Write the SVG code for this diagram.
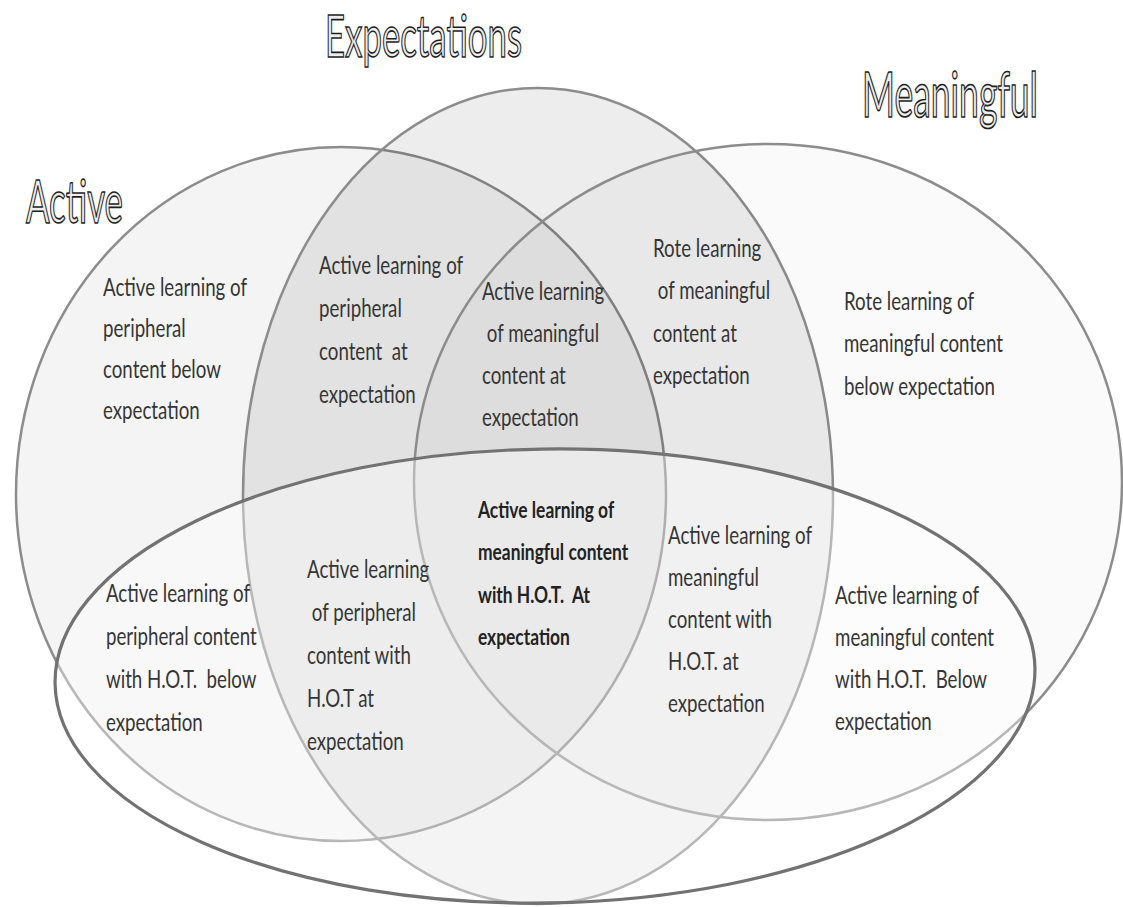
<svg xmlns="http://www.w3.org/2000/svg" width="1123" height="907" viewBox="0 0 1123 907">
<style>
.set{stroke:#8c8c8c;stroke-width:2.5}
.hot{stroke:#727272;stroke-width:3.2}
.t{font-family:Lato,"Liberation Sans",sans-serif;font-size:21.5px;fill:#353535;white-space:pre}
.b{font-weight:bold;font-size:20px;fill:#222}
.title{font-family:Lato,"Liberation Sans",sans-serif;font-size:40px;fill:#eeeeee;stroke:#1e1e1e;stroke-width:1.1;white-space:pre}
</style>
<rect width="1123" height="907" fill="#ffffff"/>
<g id="set-active"><ellipse class="set" cx="341" cy="494" rx="325" ry="347" fill="#000" fill-opacity="0.045"/></g>
<g id="set-expectations"><ellipse class="set" cx="538" cy="496" rx="295" ry="408" fill="#000" fill-opacity="0.07"/></g>
<g id="set-meaningful"><ellipse class="set" cx="768" cy="482" rx="354" ry="338" fill="#000" fill-opacity="0.02"/></g>
<g id="set-hot"><ellipse class="hot" cx="545" cy="676" rx="490" ry="227" transform="rotate(-0.9 545 676)" fill="#fff" fill-opacity="0.38"/></g>

<g id="titles">
<text class="title" transform="translate(325,57) scale(1,1.45)" x="0" y="0" textLength="197" lengthAdjust="spacingAndGlyphs">Expectations</text>
<text class="title" transform="translate(26,223) scale(1,1.5)" x="0" y="0" textLength="97" lengthAdjust="spacingAndGlyphs">Active</text>
<text class="title" transform="translate(862,117) scale(1,1.55)" x="0" y="0" textLength="176" lengthAdjust="spacingAndGlyphs">Meaningful</text>
</g>

<g transform="scale(0.87,1.15)">
<g id="r-active">
<text class="t" x="118.4" y="257.4">Active learning of</text>
<text class="t" x="118.4" y="293.0">peripheral</text>
<text class="t" x="118.4" y="328.7">content below</text>
<text class="t" x="118.4" y="364.3">expectation</text>
</g>
<g id="r-active-exp">
<text class="t" x="366.7" y="238.3">Active learning of</text>
<text class="t" x="366.7" y="275.7">peripheral</text>
<text class="t" x="366.7" y="313.0">content  at</text>
<text class="t" x="366.7" y="350.4">expectation</text>
</g>
<g id="r-active-exp-mean">
<text class="t" x="554.0" y="260.9">Active learning</text>
<text class="t" x="554.0" y="297.4"> of meaningful</text>
<text class="t" x="554.0" y="333.9">content at</text>
<text class="t" x="554.0" y="370.4">expectation</text>
</g>
<g id="r-exp-mean">
<text class="t" x="750.6" y="223.5">Rote learning</text>
<text class="t" x="750.6" y="260.4"> of meaningful</text>
<text class="t" x="750.6" y="297.4">content at</text>
<text class="t" x="750.6" y="334.3">expectation</text>
</g>
<g id="r-mean">
<text class="t" x="970.1" y="269.6">Rote learning of</text>
<text class="t" x="970.1" y="306.5">meaningful content</text>
<text class="t" x="970.1" y="343.5">below expectation</text>
</g>
<g id="r-active-hot">
<text class="t" x="121.8" y="523.5">Active learning of</text>
<text class="t" x="121.8" y="560.9">peripheral content</text>
<text class="t" x="121.8" y="598.3">with H.O.T.  below</text>
<text class="t" x="121.8" y="635.7">expectation</text>
</g>
<g id="r-active-exp-hot">
<text class="t" x="352.9" y="502.6">Active learning</text>
<text class="t" x="352.9" y="540.0"> of peripheral</text>
<text class="t" x="352.9" y="577.4">content with</text>
<text class="t" x="352.9" y="614.8">H.O.T at</text>
<text class="t" x="352.9" y="652.2">expectation</text>
</g>
<g id="r-all">
<text class="t b" x="549.4" y="450.4">Active learning of</text>
<text class="t b" x="549.4" y="487.2">meaningful content</text>
<text class="t b" x="549.4" y="524.0">with H.O.T.  At</text>
<text class="t b" x="549.4" y="560.8">expectation</text>
</g>
<g id="r-exp-mean-hot">
<text class="t" x="767.8" y="473.0">Active learning of</text>
<text class="t" x="767.8" y="509.6">meaningful</text>
<text class="t" x="767.8" y="546.1">content with</text>
<text class="t" x="767.8" y="582.6">H.O.T. at</text>
<text class="t" x="767.8" y="619.1">expectation</text>
</g>
<g id="r-mean-hot">
<text class="t" x="959.8" y="525.2">Active learning of</text>
<text class="t" x="959.8" y="561.7">meaningful content</text>
<text class="t" x="959.8" y="598.3">with H.O.T.  Below</text>
<text class="t" x="959.8" y="634.8">expectation</text>
</g>
</g>
</svg>
